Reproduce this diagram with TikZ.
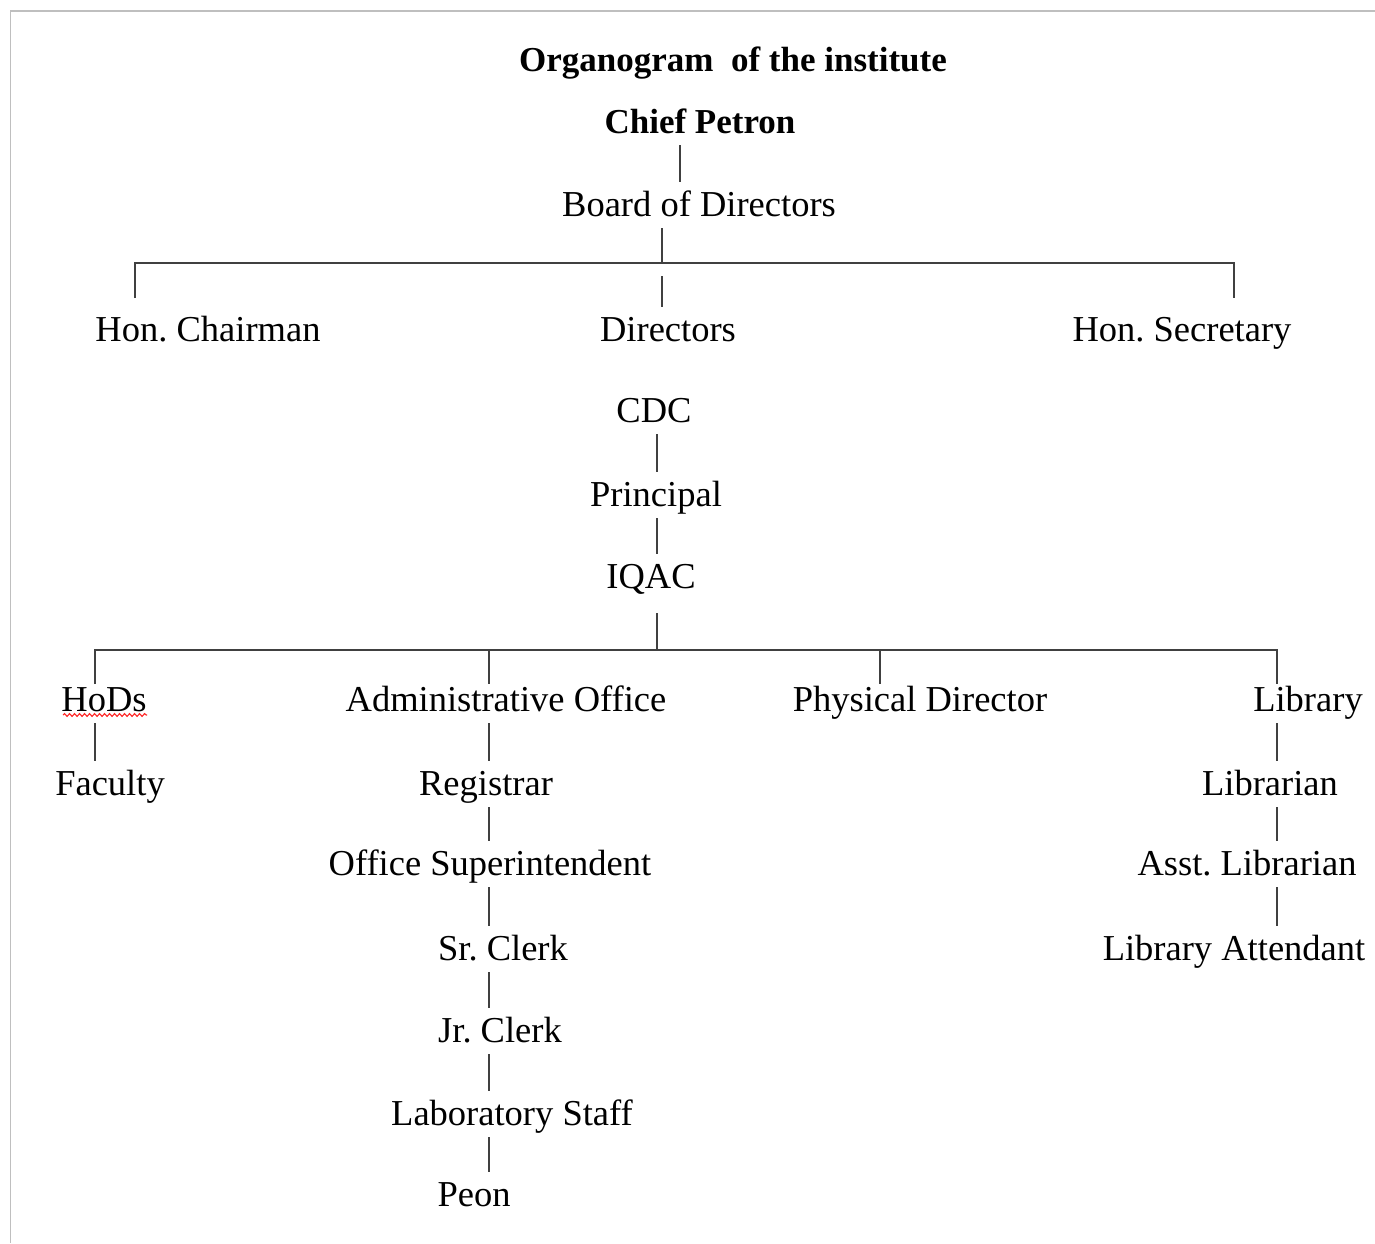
\documentclass[tikz,border=0pt]{standalone}
\usepackage{fontspec}
\setmainfont{Liberation Serif}
\usetikzlibrary{decorations.pathmorphing}
\frenchspacing
\begin{document}
\begin{tikzpicture}[x=1pt,y=-1pt,
  lbl/.style={anchor=base, inner xsep=0pt, inner ysep=3pt, text height=31pt, text depth=9pt,
              font=\fontsize{36.5}{40}\selectfont\frenchspacing, text=black},
  hdr/.style={lbl, font=\fontsize{35}{40}\selectfont\bfseries\frenchspacing},
  conn/.style={draw=black!75, line width=2.2pt},
  frameline/.style={draw=black!25, line width=1.5pt},
  spell/.style={draw=red!85, line width=1.1pt, decorate,
                decoration={snake, amplitude=1.4pt, segment length=5pt}}]
\useasboundingbox (0,0) rectangle (1375,1243);
% page frame
\coordinate (fbl) at (10.5,1243);
\coordinate (ftl) at (10.5,11);
\coordinate (ftr) at (1375,11);
\draw[frameline] (fbl) -- (ftl) -- (ftr);

% nodes
\node[hdr] (title) at (733,71) {Organogram\ \ of the institute};
\node[hdr] (chief) at (700,133) {Chief Petron};
\node[lbl] (board) at (699,216) {Board of Directors};
\node[lbl] (chair) at (208,341) {Hon. Chairman};
\node[lbl] (dirs)  at (668,341) {Directors};
\node[lbl] (sec)   at (1182,341) {Hon. Secretary};
\node[lbl] (cdc)   at (654,422) {CDC};
\node[lbl] (prin)  at (656,506) {Principal};
\node[lbl] (iqac)  at (651,588) {IQAC};
\node[lbl] (hods)  at (104,711) {HoDs};
\node[lbl] (fac)   at (110,795) {Faculty};
\node[lbl] (admin) at (506,711) {Administrative Office};
\node[lbl] (reg)   at (486,795) {Registrar};
\node[lbl] (osup)  at (490,875) {Office Superintendent};
\node[lbl] (sr)    at (503,960) {Sr. Clerk};
\node[lbl] (jr)    at (500,1042) {Jr. Clerk};
\node[lbl] (lab)   at (512,1125) {Laboratory Staff};
\node[lbl] (peon)  at (474,1206) {Peon};
\node[lbl] (phys)  at (920,711) {Physical Director};
\node[lbl] (lib)   at (1308,711) {Library};
\node[lbl] (libn)  at (1270,795) {Librarian};
\node[lbl] (asst)  at (1247,875) {Asst. Librarian};
\node[lbl] (att)   at (1234,960) {Library Attendant};

% spelling underline under HoDs
\coordinate (hw) at (63,715);
\coordinate (he) at (147,715);
\draw[spell] (hw) -- (he);

% x positions of the vertical connectors
\coordinate (xCP) at (680,0);
\coordinate (xBD) at (662,0);
\coordinate (xC) at (657,0);
\coordinate (xH) at (95,0);
\coordinate (xA) at (489,0);
\coordinate (xLib) at (1277,0);

% top part
\draw[conn] (xCP |- chief.south) -- (xCP |- board.north);
\coordinate (bus1m) at (662,263);
\coordinate (bus1w) at (135,263);
\coordinate (bus1e) at (1234,263);
\coordinate (chairT) at (135,298);
\coordinate (secT) at (1234,298);
\coordinate (dirT) at (662,276);
\draw[conn] (xBD |- board.south) -- (bus1m);
\draw[conn] (chairT) -- (bus1w) -- (bus1e) -- (secT);
\draw[conn] (dirT) -- (xBD |- dirs.north);

% middle chain
\draw[conn] (xC |- cdc.south) -- (xC |- prin.north);
\draw[conn] (xC |- prin.south) -- (xC |- iqac.north);
\coordinate (iqacB) at (657,613);
\coordinate (bus2m) at (657,650);
\draw[conn] (iqacB) -- (bus2m);

% second bus
\coordinate (bus2w) at (95,650);
\coordinate (bus2e) at (1277,650);
\coordinate (hodsT) at (95,684);
\coordinate (libT) at (1277,684);
\coordinate (admB) at (489,650);
\coordinate (admT) at (489,684);
\coordinate (phyB) at (880,650);
\coordinate (phyT) at (880,684);
\draw[conn] (hodsT) -- (bus2w) -- (bus2e) -- (libT);
\draw[conn] (admB) -- (admT);
\draw[conn] (phyB) -- (phyT);

% HoDs branch
\draw[conn] (xH |- hods.south) -- (xH |- fac.north);

% administrative branch
\draw[conn] (xA |- admin.south) -- (xA |- reg.north);
\draw[conn] (xA |- reg.south) -- (xA |- osup.north);
\draw[conn] (xA |- osup.south) -- (xA |- sr.north);
\draw[conn] (xA |- sr.south) -- (xA |- jr.north);
\draw[conn] (xA |- jr.south) -- (xA |- lab.north);
\draw[conn] (xA |- lab.south) -- (xA |- peon.north);

% library branch
\draw[conn] (xLib |- lib.south) -- (xLib |- libn.north);
\draw[conn] (xLib |- libn.south) -- (xLib |- asst.north);
\draw[conn] (xLib |- asst.south) -- (xLib |- att.north);
\end{tikzpicture}
\end{document}
